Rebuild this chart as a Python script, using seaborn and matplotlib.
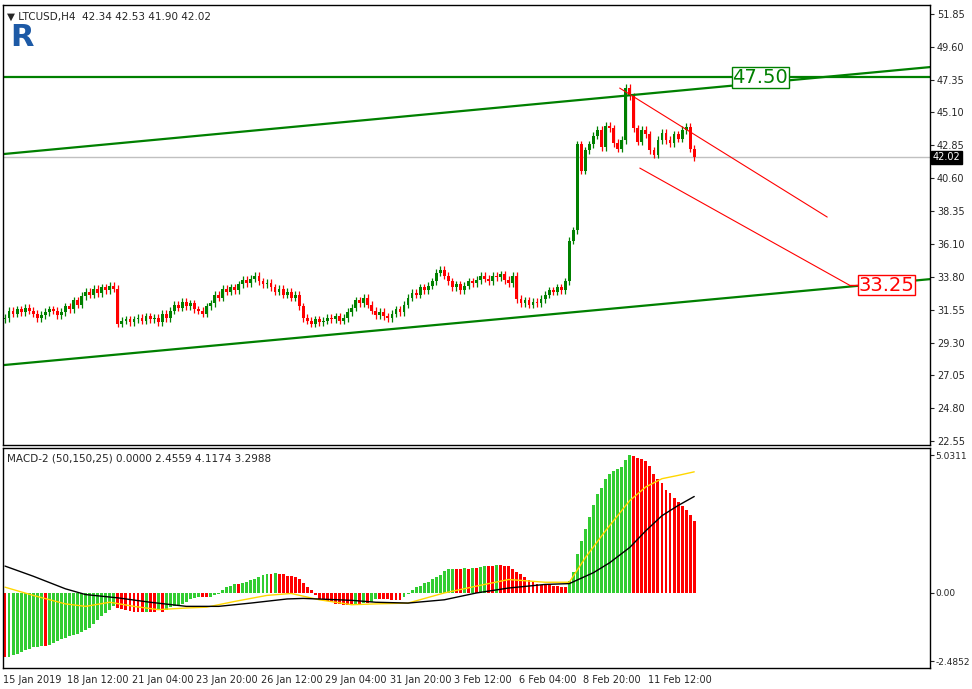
import numpy as np
import pandas as pd
import seaborn as sns
import matplotlib.pyplot as plt
from matplotlib.patches import Rectangle

# 4-hour closes, LTCUSD
closes = [31.0, 31.5, 31.3, 31.6, 31.4, 31.7, 31.5, 31.3,
          31.0, 31.2, 31.4, 31.6, 31.5, 31.2, 31.4,
          31.8, 31.6, 32.2, 31.9, 32.5, 32.8, 32.6, 33.0,
          32.7, 33.1, 32.9, 33.2, 33.0,
          30.6,
          30.8, 30.9, 30.7, 30.9, 31.0, 30.8, 31.1, 30.9, 31.0, 30.7, 31.3, 31.0,
          31.5, 31.9, 31.7, 32.1, 31.8, 32.0, 31.6,
          31.5, 31.3, 31.8, 32.0, 32.6, 32.4, 33.0,
          32.8, 33.1, 32.9, 33.3, 33.6, 33.4, 33.7, 33.9, 33.5,
          33.3, 33.4, 33.1, 32.8, 33.0, 32.6, 32.8,
          32.4, 32.6, 31.8, 31.0, 30.8,
          30.6, 30.9, 30.7, 30.8, 31.0, 30.9, 31.1, 30.8, 31.0, 31.4,
          31.7, 32.2, 32.0, 32.4, 31.9, 31.5, 31.2,
          31.4, 31.1, 31.0, 31.3, 31.6, 31.4, 31.9,
          32.4, 32.7, 32.6, 33.1, 32.9, 33.2, 33.5, 34.1,
          34.3, 33.9, 33.5, 33.1, 33.3, 32.9, 33.2, 33.5, 33.4,
          33.6, 33.9, 33.7, 33.5, 33.9, 33.8, 34.0, 33.6, 33.4, 33.9, 32.3,
          32.0, 32.2, 31.9, 32.1, 32.0, 32.3, 32.6, 32.9,
          32.8, 33.1, 32.9, 33.5,
          36.3, 37.0, 42.9,
          41.1, 42.5, 42.9, 43.5, 43.9, 42.7, 44.2, 44.0, 43.0, 42.6,
          43.2, 46.8, 46.2, 44.0, 43.1, 43.9, 43.6, 42.5, 42.2, 43.2,
          43.7, 43.2, 43.0, 43.6, 43.3, 43.9, 44.1, 42.6, 42.02]
first_open = 30.9

# MACD-2 histogram, read in 1/3-pixel units of the indicator window
hist_px = [-192, -190, -186, -183, -177, -171, -166, -162, -160, -158,
           -159, -156, -148, -142, -138, -133, -129, -126, -122, -116,
           -110, -104, -92, -80, -69, -59, -50, -40, -45, -48,
           -51, -54, -56, -56.5, -57, -56, -56.5, -57, -52, -56,
           -50, -42, -38, -35, -32, -26, -19, -14, -12, -12,
           -12.5, -12, -5, -2, 9, 17, 22, 27, 27, 30,
           34, 37, 41, 48, 54, 57, 57, 59, 57, 57,
           51, 50, 47, 41, 30, 18, 9, -5, -17, -17,
           -24, -28, -32, -34, -37, -37, -37,
           -33, -33, -30, -30, -28, -18, -18, -18, -18, -20,
           -20, -20, -12, -3, 10, 18, 22, 30, 34, 42,
           46, 54, 64, 70, 72, 72, 72, 74, 72, 75,
           75, 77, 81, 81, 81, 84, 84, 81, 81, 71,
           63, 55, 47, 39, 32, 27, 25, 25, 23, 21,
           20, 18, 18, 36, 63, 117, 153, 189, 225, 261,
           295, 312, 339, 355, 362, 368, 375, 396, 410, 407,
           400, 397, 392, 378, 355, 340, 326, 307, 297, 281,
           271, 259, 248, 233, 213]
hist_scale = 5.0311 / 410

black_bar = [0, 7, 15, 20, 28, 36, 45, 53, 61, 70, 74, 86, 92, 100, 109,
             117, 125, 134, 140, 146, 150, 155, 159, 163, 167, 171]
black_val = [0.98, 0.61, 0.15, -0.06, -0.18, -0.34, -0.49, -0.49, -0.37, -0.22,
             -0.20, -0.27, -0.34, -0.37, -0.25, 0.0, 0.18, 0.31, 0.34, 0.74,
             1.10, 1.66, 2.27, 2.82, 3.19, 3.52]
yellow_bar = [0, 7, 15, 20, 26, 32, 38, 45, 50, 57, 65, 71, 78, 86, 92, 100,
              109, 117, 125, 134, 140, 144, 149, 155, 159, 163, 167, 171]
yellow_val = [0.21, -0.09, -0.40, -0.49, -0.34, -0.49, -0.61, -0.55, -0.52, -0.31,
              -0.09, -0.02, -0.25, -0.43, -0.40, -0.37, 0.0, 0.25, 0.49, 0.39,
              0.39, 1.29, 2.27, 3.37, 3.87, 4.17, 4.29, 4.42]

price_ticks = [51.85, 49.60, 47.35, 45.10, 42.85, 40.60, 38.35, 36.10,
               33.80, 31.55, 29.30, 27.05, 24.80, 22.55]
date_labels = ['15 Jan 2019', '18 Jan 12:00', '21 Jan 04:00', '23 Jan 20:00',
               '26 Jan 12:00', '29 Jan 04:00', '31 Jan 20:00', '3 Feb 12:00',
               '6 Feb 04:00', '8 Feb 20:00', '11 Feb 12:00']

# drawn levels (bar index, price)
upper_channel = ([-0.5, 229.5], [42.24, 48.21])
lower_channel = ([-0.5, 229.5], [27.76, 33.66])
red_upper = ([152.5, 204.0], [46.77, 37.92])
red_lower = ([157.5, 209.5], [41.28, 33.25])
level_high = 47.50
level_low = 33.25
last_price = 42.02

sns.set_style('white')
plt.rcParams['font.family'] = ['DejaVu Sans']

GREEN = '#008000'
n = len(closes)
opens = [first_open] + closes[:-1]
df = pd.DataFrame({'bar': np.arange(n), 'open': opens, 'close': closes})
df['hi'] = df[['open', 'close']].max(axis=1) + 0.25
df['lo'] = df[['open', 'close']].min(axis=1) - 0.25

fig = plt.figure(figsize=(9.72, 6.89), dpi=100)
ax = fig.add_axes([3 / 972, 1 - 445 / 689, 927 / 972, 440 / 689])
ax2 = fig.add_axes([3 / 972, 1 - 668 / 689, 927 / 972, 220 / 689])
xmin, xmax = -0.5, 229.5

for r in df.itertuples():
    col = GREEN if r.close >= r.open else 'red'
    ax.vlines(r.bar, r.lo, r.hi, color=col, lw=0.9)
    ax.add_patch(Rectangle((r.bar - 0.35, min(r.open, r.close)), 0.7,
                           max(abs(r.close - r.open), 0.04), color=col, lw=0))

ax.axhline(last_price, color='#c0c0c0', lw=1, zorder=0)
sns.lineplot(x=upper_channel[0], y=upper_channel[1], ax=ax, color=GREEN, lw=1.6)
sns.lineplot(x=lower_channel[0], y=lower_channel[1], ax=ax, color=GREEN, lw=1.6)
ax.axhline(level_high, color=GREEN, lw=1.6)
sns.lineplot(x=red_upper[0], y=red_upper[1], ax=ax, color='red', lw=0.8)
sns.lineplot(x=red_lower[0], y=red_lower[1], ax=ax, color='red', lw=0.8)
ax.plot([209.5, 211.5], [level_low, level_low], color='red', lw=1)
ax.text(180.5, level_high, f'{level_high:.2f}', color=GREEN, fontsize=14, va='center',
        ha='left', bbox=dict(fc='white', ec=GREEN, pad=0.5, lw=1), zorder=5)
ax.text(211.8, level_low, f'{level_low:.2f}', color='red', fontsize=14, va='center',
        ha='left', bbox=dict(fc='white', ec='red', pad=0.5, lw=1), zorder=5)

ax.set_xlim(xmin, xmax)
ax.set_ylim(22.28, 52.47)
ax.yaxis.tick_right()
ax.set_yticks(price_ticks)
ax.set_yticklabels([f'{t:.2f}' for t in price_ticks])
ax.set_xticks([])
ax.tick_params(axis='y', labelsize=7, length=3, right=True, direction='out', pad=2)
ax.text(1.003, (last_price - 22.28) / (52.47 - 22.28), f'{last_price:.2f}', transform=ax.transAxes,
        color='white', fontsize=7, va='center', ha='left',
        bbox=dict(fc='black', ec='black', pad=1))
ax.text(0.004, 0.985, '▼ LTCUSD,H4  42.34 42.53 41.90 42.02', transform=ax.transAxes,
        fontsize=7.5, va='top', ha='left')
ax.text(0.008, 0.925, 'R', transform=ax.transAxes, fontsize=22, fontweight='bold',
        color='#1d5aa6', va='center', ha='left')

hist = np.array(hist_px) * hist_scale
colors = ['#32cd32' if i > 0 and hist[i] > hist[i - 1] else 'red' for i in range(n)]
ax2.bar(np.arange(n), hist, width=0.72, color=colors, lw=0)
sns.lineplot(x=yellow_bar, y=yellow_val, ax=ax2, color='#ffd700', lw=1)
sns.lineplot(x=black_bar, y=black_val, ax=ax2, color='black', lw=1)
ax2.set_xlim(xmin, xmax)
ax2.set_ylim(-2.74, 5.29)
ax2.yaxis.tick_right()
ax2.set_yticks([5.0311, 0.0, -2.4852])
ax2.set_yticklabels(['5.0311', '0.00', '-2.4852'])
ax2.tick_params(axis='y', labelsize=6.5, length=3, direction='out', pad=1)
ax2.set_xticks([16 * k - 0.5 for k in range(len(date_labels))])
ax2.set_xticklabels(date_labels, ha='left')
ax2.tick_params(axis='x', labelsize=7, length=3, direction='out', pad=2)
ax2.text(0.004, 0.975, 'MACD-2 (50,150,25) 0.0000 2.4559 4.1174 3.2988',
         transform=ax2.transAxes, fontsize=7.5, va='top', ha='left')

for a in (ax, ax2):
    for s in a.spines.values():
        s.set_color('black')
        s.set_linewidth(1)

fig.savefig('out.png', dpi=100)
